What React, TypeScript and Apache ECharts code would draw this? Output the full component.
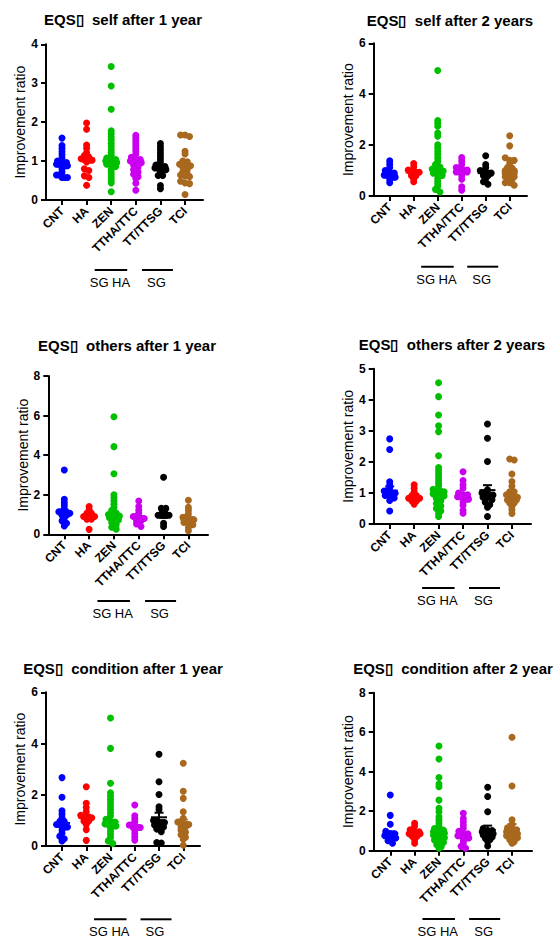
import React, { useEffect, useRef } from 'react';
import * as echarts from 'echarts';

const categories = ['CNT', 'HA', 'ZEN', 'TTHA/TTC', 'TT/TTSG', 'TCI'];
const groupColors = ['#0000FF', '#FF0000', '#00C000', '#CC00F0', '#000000', '#A8681E'];
const panelTitles = [
  'EQS\u25AF  self after 1 year',
  'EQS\u25AF  self after 2 years',
  'EQS\u25AF  others after 1 year',
  'EQS\u25AF  others after 2 years',
  'EQS\u25AF  condition after 1 year',
  'EQS\u25AF  condition after 2 year',
];
const yMaxes = [4, 6, 8, 5, 6, 8];
const yIntervals = [1, 2, 2, 1, 2, 2];
const yAxisName = 'Improvement ratio';
const bracketLabels = ['SG HA', 'SG'];

// ---- EQS self after 1 year ----
const self1 = [
  [1.59, 1.40, 1.32, 1.24, 1.16, 1.08, 1.00, 0.96, 0.96, 0.92, 0.92, 0.92, 0.92, 0.88, 0.88, 0.88, 0.80, 0.72, 0.64, 0.64, 0.58, 0.58, 0.58],
  [1.98, 1.82, 1.41, 1.33, 1.22, 1.14, 1.10, 1.06, 1.06, 1.06, 1.02, 1.02, 0.98, 0.80, 0.76, 0.62, 0.58, 0.38],
  [3.43, 2.93, 2.33, 1.78, 1.70, 1.62, 1.54, 1.46, 1.38, 1.30, 1.22, 1.15, 1.08, 1.04, 1.04, 1.00, 1.00, 1.00, 1.00, 0.96, 0.96, 0.96, 0.92, 0.92, 0.86, 0.79, 0.72, 0.65, 0.58, 0.51, 0.44, 0.21],
  [1.66, 1.59, 1.52, 1.45, 1.38, 1.31, 1.24, 1.17, 1.10, 1.04, 1.04, 1.00, 1.00, 1.00, 1.00, 0.96, 0.96, 0.90, 0.84, 0.78, 0.72, 0.66, 0.60, 0.55, 0.43, 0.25],
  [1.45, 1.37, 1.29, 1.21, 1.13, 1.05, 0.97, 0.90, 0.86, 0.86, 0.82, 0.82, 0.82, 0.82, 0.78, 0.78, 0.70, 0.63, 0.63, 0.37, 0.29],
  [1.67, 1.67, 1.63, 1.25, 1.18, 1.00, 0.98, 0.92, 0.92, 0.88, 0.88, 0.88, 0.84, 0.78, 0.72, 0.66, 0.64, 0.62, 0.60, 0.48, 0.44, 0.42, 0.14],
];
const self1Mean = [0.93, 1.07, 1.00, 1.00, 0.83, 0.90];
const self1Sem = [0.05, 0.09, 0.04, 0.05, 0.06, 0.09];

// ---- EQS self after 2 years ----
const self2 = [
  [1.38, 1.25, 1.12, 1.00, 0.90, 0.90, 0.82, 0.82, 0.82, 0.82, 0.74, 0.74, 0.64, 0.52],
  [1.28, 1.15, 1.02, 0.93, 0.93, 0.93, 0.93, 0.80, 0.80, 0.68, 0.56],
  [4.93, 2.97, 2.86, 2.74, 2.47, 2.35, 2.01, 1.89, 1.75, 1.62, 1.49, 1.36, 1.24, 1.14, 1.06, 1.06, 1.06, 0.98, 0.98, 0.98, 0.98, 0.90, 0.90, 0.81, 0.70, 0.59, 0.48, 0.37, 0.26, 0.16],
  [1.51, 1.38, 1.24, 1.12, 1.02, 1.02, 1.02, 0.94, 0.94, 0.94, 0.94, 0.80, 0.66, 0.36, 0.23],
  [1.58, 1.24, 1.12, 1.00, 0.90, 0.90, 0.90, 0.90, 0.80, 0.80, 0.68, 0.56, 0.46],
  [2.37, 1.97, 1.50, 1.40, 1.40, 1.28, 1.12, 1.10, 1.00, 1.00, 1.00, 0.88, 0.88, 0.88, 0.76, 0.76, 0.76, 0.64, 0.64, 0.52, 0.52, 0.42],
];
const self2Mean = [0.84, 0.92, 1.03, 0.97, 0.90, 0.96];
const self2Sem = [0.05, 0.06, 0.06, 0.06, 0.07, 0.09];

// ---- EQS others after 1 year ----
const others1 = [
  [3.25, 1.77, 1.60, 1.44, 1.28, 1.14, 1.14, 1.06, 1.06, 1.06, 1.06, 0.96, 0.96, 0.82, 0.68, 0.56, 0.42],
  [1.40, 1.24, 1.06, 1.06, 0.90, 0.90, 0.90, 0.90, 0.76, 0.76, 0.25],
  [5.94, 4.43, 3.06, 2.00, 1.84, 1.68, 1.52, 1.36, 1.20, 1.08, 1.00, 1.00, 0.92, 0.92, 0.92, 0.92, 0.84, 0.84, 0.72, 0.60, 0.48, 0.36, 0.26],
  [1.68, 1.40, 1.22, 1.06, 0.90, 0.90, 0.80, 0.80, 0.80, 0.80, 0.68, 0.68, 0.52, 0.39],
  [2.88, 1.31, 1.31, 1.14, 0.96, 0.96, 0.96, 0.96, 0.56, 0.40],
  [1.72, 1.36, 1.20, 1.02, 0.86, 0.86, 0.74, 0.74, 0.74, 0.74, 0.60, 0.60, 0.48, 0.34, 0.18],
];
const others1Mean = [1.10, 0.90, 0.96, 0.84, 0.98, 0.74];
const others1Sem = [0.14, 0.08, 0.08, 0.08, 0.15, 0.09];

// ---- EQS others after 2 years ----
const others2 = [
  [2.74, 2.40, 1.36, 1.26, 1.16, 1.06, 1.06, 0.99, 0.99, 0.99, 0.99, 0.92, 0.92, 0.84, 0.76, 0.42],
  [1.26, 1.15, 1.04, 0.92, 0.92, 0.83, 0.83, 0.83, 0.83, 0.74, 0.74, 0.64],
  [4.55, 4.10, 3.51, 3.16, 2.97, 2.20, 1.82, 1.72, 1.62, 1.52, 1.42, 1.32, 1.22, 1.12, 1.04, 1.04, 1.04, 0.97, 0.97, 0.97, 0.97, 0.90, 0.90, 0.82, 0.74, 0.66, 0.58, 0.50, 0.42, 0.34, 0.24],
  [1.68, 1.40, 1.26, 1.15, 1.00, 0.94, 0.94, 0.88, 0.88, 0.88, 0.88, 0.80, 0.80, 0.70, 0.60, 0.44, 0.35],
  [3.22, 2.76, 2.01, 1.10, 1.00, 1.00, 0.93, 0.93, 0.93, 0.93, 0.86, 0.86, 0.78, 0.70, 0.62, 0.54, 0.24],
  [2.09, 2.06, 1.61, 1.37, 1.22, 1.04, 1.04, 0.94, 0.94, 0.86, 0.86, 0.77, 0.77, 0.77, 0.68, 0.68, 0.56, 0.46, 0.34],
];
const others2Mean = [1.08, 0.85, 1.06, 0.88, 1.09, 0.90];
const others2Sem = [0.13, 0.05, 0.06, 0.07, 0.16, 0.09];

// ---- EQS condition after 1 year ----
const condition1 = [
  [2.67, 1.90, 1.37, 1.24, 1.10, 0.96, 0.96, 0.84, 0.84, 0.84, 0.84, 0.74, 0.74, 0.62, 0.50, 0.38, 0.28, 0.20],
  [2.31, 1.67, 1.50, 1.34, 1.20, 1.10, 1.10, 1.10, 1.10, 0.97, 0.97, 0.84, 0.64, 0.22],
  [5.00, 3.81, 2.45, 2.08, 1.95, 1.82, 1.69, 1.56, 1.43, 1.30, 1.17, 1.04, 0.94, 0.94, 0.86, 0.86, 0.86, 0.86, 0.78, 0.78, 0.68, 0.56, 0.44, 0.32, 0.20, 0.10],
  [1.60, 1.18, 1.06, 0.94, 0.82, 0.82, 0.72, 0.72, 0.72, 0.72, 0.62, 0.50, 0.36, 0.23],
  [3.58, 2.51, 2.01, 1.53, 1.42, 1.00, 1.00, 0.92, 0.92, 0.92, 0.92, 0.82, 0.82, 0.74, 0.66, 0.56, 0.14, 0.12],
  [3.23, 2.14, 1.86, 1.34, 1.08, 0.94, 0.94, 0.84, 0.84, 0.84, 0.84, 0.74, 0.74, 0.62, 0.54, 0.44, 0.34, 0.26, 0.03],
];
const condition1Mean = [0.90, 1.10, 0.93, 0.74, 1.12, 0.88];
const condition1Sem = [0.12, 0.12, 0.08, 0.08, 0.18, 0.15];

// ---- EQS condition after 2 years ----
const condition2 = [
  [2.82, 1.79, 1.34, 0.98, 0.86, 0.86, 0.76, 0.76, 0.76, 0.76, 0.64, 0.64, 0.50, 0.38],
  [1.39, 1.24, 1.06, 0.96, 0.96, 0.86, 0.86, 0.86, 0.86, 0.72, 0.72, 0.56, 0.38],
  [5.30, 4.64, 3.71, 3.38, 3.24, 2.56, 2.15, 1.97, 1.72, 1.56, 1.40, 1.26, 1.12, 1.04, 1.04, 0.96, 0.96, 0.96, 0.96, 0.88, 0.88, 0.78, 0.78, 0.66, 0.66, 0.54, 0.54, 0.42, 0.30, 0.20, 0.12],
  [1.89, 1.63, 1.46, 1.30, 1.14, 0.98, 0.86, 0.86, 0.76, 0.76, 0.76, 0.76, 0.64, 0.64, 0.50, 0.36, 0.22, 0.12],
  [3.21, 2.74, 1.97, 1.12, 1.02, 1.02, 0.96, 0.96, 0.96, 0.96, 0.86, 0.86, 0.80, 0.76, 0.70, 0.62, 0.56, 0.46, 0.24],
  [5.74, 3.28, 1.56, 1.32, 1.16, 1.06, 1.06, 0.96, 0.96, 0.96, 0.86, 0.86, 0.86, 0.76, 0.76, 0.66, 0.66, 0.56, 0.46, 0.38],
];
const condition2Mean = [0.86, 0.88, 1.03, 0.80, 1.05, 1.10];
const condition2Sem = [0.12, 0.07, 0.08, 0.09, 0.22, 0.25];

const panelData = [self1, self2, others1, others2, condition1, condition2];
const panelMeans = [self1Mean, self2Mean, others1Mean, others2Mean, condition1Mean, condition2Mean];
const panelSems = [self1Sem, self2Sem, others1Sem, others2Sem, condition1Sem, condition2Sem];

// layout (pixels) of each panel
const layouts = [
  { left: 46, top: 44.3, width: 157, height: 155.7, xMin: -0.65, xMax: 5.73, titleX: 123, titleY: 19, bracketY: 270 },
  { left: 373.7, top: 43.3, width: 153.3, height: 152.7, xMin: -0.667, xMax: 5.72, titleX: 450, titleY: 20, bracketY: 266.7 },
  { left: 48.3, top: 376, width: 159.7, height: 158.3, xMin: -0.645, xMax: 5.79, titleX: 127, titleY: 345, bracketY: 601 },
  { left: 373.7, top: 368.7, width: 157.3, height: 155.3, xMin: -0.654, xMax: 5.78, titleX: 452, titleY: 344, bracketY: 588 },
  { left: 46, top: 692.3, width: 154, height: 153.7, xMin: -0.66, xMax: 5.69, titleX: 123, titleY: 668, bracketY: 919.3 },
  { left: 373.7, top: 692.7, width: 158.3, height: 158, xMin: -0.68, xMax: 5.82, titleX: 453, titleY: 668, bracketY: 919 },
];

const FONT = '"Liberation Sans", Arial, Helvetica, sans-serif';

// GraphPad-like scatter: points of nearly equal value share a row and are spread horizontally
function rowOffsets(values: number[], pxY: number, pxX: number): number[] {
  const T = 2.6;
  const order = values.map((_, i) => i).sort((a, b) => values[b] - values[a]);
  const offs = new Array(values.length).fill(0);
  let i = 0;
  while (i < order.length) {
    const v0 = values[order[i]];
    let j = i;
    while (j < order.length && (v0 - values[order[j]]) * pxY < T) j++;
    const row = order.slice(i, j);
    const m = row.length;
    const sp = m > 1 ? Math.min(4.5, 11 / (m - 1)) : 0;
    row.forEach((idx, k) => {
      offs[idx] = ((k - (m - 1) / 2) * sp) / pxX;
    });
    i = j;
  }
  return offs;
}

function buildOption() {
  const grid: any[] = [];
  const xAxis: any[] = [];
  const yAxis: any[] = [];
  const series: any[] = [];
  const graphic: any[] = [];

  layouts.forEach((L, p) => {
    const pxX = L.width / (L.xMax - L.xMin);
    const pxY = L.height / yMaxes[p];
    const c0 = L.left + (0 - L.xMin) * pxX;
    const gA = 2 * p;
    const gB = 2 * p + 1;
    grid.push({ left: L.left, top: L.top, width: L.width, height: L.height });
    grid.push({ left: c0 - pxX / 2, top: L.top, width: pxX * 6, height: L.height });

    xAxis.push({
      type: 'value', gridIndex: gA, min: L.xMin, max: L.xMax,
      axisLine: { show: true, onZero: false, lineStyle: { color: '#000', width: 2 } },
      axisTick: { show: false }, axisLabel: { show: false }, splitLine: { show: false },
    });
    xAxis.push({
      type: 'category', gridIndex: gB, data: categories, boundaryGap: true,
      axisLine: { show: false },
      axisTick: { show: true, alignWithLabel: true, length: 5, lineStyle: { color: '#000', width: 2 } },
      axisLabel: { interval: 0, rotate: 45, margin: 9, color: '#000', fontWeight: 'bold', fontSize: 12, fontFamily: FONT },
      splitLine: { show: false },
    });
    yAxis.push({
      type: 'value', gridIndex: gA, min: 0, max: yMaxes[p], interval: yIntervals[p],
      name: yAxisName, nameLocation: 'middle', nameGap: 18,
      nameTextStyle: { color: '#000', fontSize: 14, fontFamily: FONT },
      axisLine: { show: true, onZero: false, lineStyle: { color: '#000', width: 2 } },
      axisTick: { show: true, length: 5, lineStyle: { color: '#000', width: 2 } },
      axisLabel: { color: '#000', fontWeight: 'bold', fontSize: 12, fontFamily: FONT, margin: 8 },
      splitLine: { show: false },
    });
    yAxis.push({ type: 'value', gridIndex: gB, min: 0, max: 1, show: false });

    const stats: any[] = [];
    panelData[p].forEach((vals, g) => {
      const offs = rowOffsets(vals, pxY, pxX);
      series.push({
        type: 'scatter', xAxisIndex: gA, yAxisIndex: gA, symbol: 'circle', symbolSize: 7,
        itemStyle: { color: groupColors[g], opacity: 1 },
        data: vals.map((v, k) => [g + offs[k], v]), z: 2, silent: true,
      });
      stats.push({ value: [g, panelMeans[p][g], panelSems[p][g]], itemStyle: { color: groupColors[g] } });
    });
    series.push({
      type: 'custom', xAxisIndex: gA, yAxisIndex: gA, z: 3, silent: true,
      data: stats,
      renderItem: (params: any, api: any) => {
        const cx = api.value(0);
        const m = api.value(1);
        const e = api.value(2);
        const pm = api.coord([cx, m]);
        const ph = api.coord([cx, m + e]);
        const pl = api.coord([cx, Math.max(0, m - e)]);
        const st = { stroke: api.visual('color'), lineWidth: 2 };
        return {
          type: 'group',
          children: [
            { type: 'line', shape: { x1: pm[0] - 8, y1: pm[1], x2: pm[0] + 8, y2: pm[1] }, style: st },
            { type: 'line', shape: { x1: pm[0], y1: pl[1], x2: pm[0], y2: ph[1] }, style: st },
            { type: 'line', shape: { x1: pm[0] - 4.5, y1: ph[1], x2: pm[0] + 4.5, y2: ph[1] }, style: st },
            { type: 'line', shape: { x1: pm[0] - 4.5, y1: pl[1], x2: pm[0] + 4.5, y2: pl[1] }, style: st },
          ],
        };
      },
    });

    graphic.push({
      type: 'text', x: L.titleX, y: L.titleY,
      style: { text: panelTitles[p], fill: '#000', font: `bold 15px ${FONT}`, align: 'center', verticalAlign: 'middle' },
    });
    const c2 = c0 + 2 * pxX;
    const c4 = c0 + 4 * pxX;
    const spans = [[c2 - 16.5, c2 + 16], [c4 - 18.5, c4 + 12.5]];
    spans.forEach((sp, j) => {
      graphic.push({
        type: 'line', shape: { x1: sp[0], y1: L.bracketY, x2: sp[1], y2: L.bracketY },
        style: { stroke: '#000', lineWidth: 2 },
      });
      graphic.push({
        type: 'text', x: (sp[0] + sp[1]) / 2 - 1, y: L.bracketY + 12.5,
        style: { text: bracketLabels[j], fill: '#000', font: `13px ${FONT}`, align: 'center', verticalAlign: 'middle' },
      });
    });
  });

  return { animation: false, backgroundColor: '#fff', grid, xAxis, yAxis, series, graphic };
}

export default function App() {
  const ref = useRef<HTMLDivElement>(null);
  useEffect(() => {
    if (!ref.current) return;
    const chart = echarts.init(ref.current, undefined, { renderer: 'svg' });
    chart.setOption(buildOption() as any);
    return () => chart.dispose();
  }, []);
  return <div ref={ref} style={{ position: 'absolute', left: 0, top: 0, width: 554, height: 938 }} />;
}
